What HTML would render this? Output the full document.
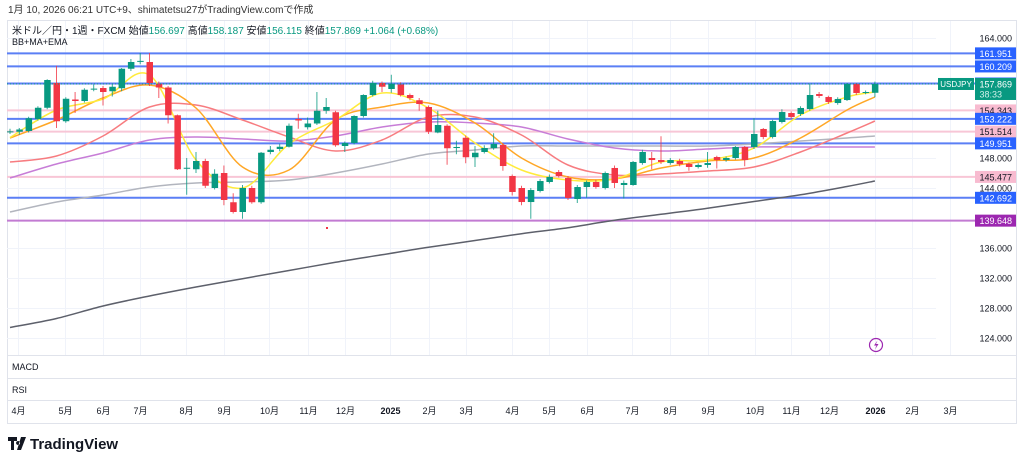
<!DOCTYPE html>
<html><head><meta charset="utf-8"><style>
body{margin:0;background:#fff;width:1024px;height:465px;overflow:hidden;font-family:"Liberation Sans","Noto Sans CJK JP",sans-serif}
svg{position:absolute;left:0;top:0}
</style></head><body>
<svg id="c" width="1024" height="465" font-family="Liberation Sans, Noto Sans CJK JP, sans-serif">
<text x="8" y="13" font-size="10" fill="#333">1月 10, 2026 06:21 UTC+9、shimatetsu27がTradingView.comで作成</text>
<rect x="7.5" y="20.5" width="1009" height="403" fill="none" stroke="#e0e3eb"/>
<g id="grid"></g><g id="hlines"></g><g id="mas"></g><g id="candles"></g><g id="axis"></g>
<text x="12" y="34" font-size="10" fill="#131722">米ドル／円・1週・FXCM 始値<tspan fill="#089981">156.697</tspan> 高値<tspan fill="#089981">158.187</tspan> 安値<tspan fill="#089981">156.115</tspan> 終値<tspan fill="#089981">157.869</tspan> <tspan fill="#089981">+1.064 (+0.68%)</tspan></text>
<text x="12" y="45" font-size="9" fill="#131722">BB+MA+EMA</text>
<line x1="7" y1="355.5" x2="1017" y2="355.5" stroke="#e0e3eb"/>
<line x1="7" y1="378.5" x2="1017" y2="378.5" stroke="#e0e3eb"/>
<line x1="7" y1="400.5" x2="1017" y2="400.5" stroke="#e0e3eb"/>
<text x="12" y="370" font-size="9" fill="#131722">MACD</text>
<text x="12" y="393" font-size="9" fill="#131722">RSI</text>
<g><circle cx="876" cy="345" r="6.5" fill="none" stroke="#9c27b0" stroke-width="1.2"/><path d="M877.5 340.5 L874 345.5 L876.5 345.5 L875 349.5 L878.5 344 L876 344 Z" fill="#9c27b0"/></g>
<g><path d="M8 437h9v4h-3v9h-3v-9h-3z M18 441a2 2 0 1 0 0.1 0z M21 437h5l-5 13h-4z" fill="#131722"/><text x="30" y="449" font-size="15" font-weight="bold" fill="#131722">TradingView</text></g>
</svg>
<script>
const NS="http://www.w3.org/2000/svg";
function mk(t,a,p){const e=document.createElementNS(NS,t);for(const k in a)e.setAttribute(k,a[k]);p.appendChild(e);return e;}
// ---- data ----
const opens=[151.45,151.5,151.6,153.2,154.7,158.0,152.9,155.8,155.6,157.2,157.33,156.9,157.3,159.9,160.85,160.8,157.9,157.4,153.7,146.6,146.5,147.6,144.0,146.0,142.1,140.8,144.0,142.1,148.8,149.2,149.5,153.2,152.1,152.6,154.3,154.1,149.6,150.0,153.6,156.4,158.0,157.2,157.8,156.4,155.7,154.8,151.4,152.3,149.33,150.7,148.1,
148.8,149.33,149.73,145.6,144.0,142.13,143.6,144.8,146.13,145.33,142.53,144.13,144.8,144.0,146.67,144.4,144.4,147.33,148.0,147.73,147.33,147.6,147.2,146.8,147.07,148.13,147.73,148.0,149.47,149.47,151.87,150.8,152.8,154.0,153.87,154.53,156.53,156.13,155.33,155.73,157.87,156.67,156.697];
const highs=[151.9,152.0,153.5,154.9,158.5,160.3,156.1,156.8,157.3,157.8,157.6,157.9,160.0,161.2,162.0,162.0,158.2,157.6,153.8,148.0,148.8,147.9,146.5,147.0,143.3,144.4,144.3,148.8,149.6,149.9,152.6,153.9,153.4,156.8,156.0,154.3,150.2,153.7,156.5,158.3,158.2,159.1,158.1,156.6,156.0,155.0,154.3,152.5,150.3,151.0,149.6,
149.7,151.3,150.0,145.8,144.3,144.0,145.2,145.8,146.4,145.6,144.4,145.0,145.1,146.2,147.0,145.0,147.6,149.1,148.8,150.9,148.0,147.9,147.4,147.3,148.8,148.3,148.2,149.6,149.6,153.3,152.0,153.1,154.5,154.2,154.9,157.9,156.8,156.3,156.1,158.0,158.0,157.0,158.187];
const lows=[151.2,151.1,151.4,153.0,154.5,152.0,152.7,154.0,155.4,156.9,155.0,156.2,156.9,159.6,160.5,157.6,156.0,152.6,146.4,143.1,146.0,144.0,143.8,141.7,140.6,139.9,141.9,141.9,148.5,148.9,149.4,151.9,151.8,152.4,153.9,149.5,148.8,149.8,153.4,156.2,156.8,156.7,156.2,155.7,154.3,151.2,151.3,147.1,148.5,147.3,146.8,
148.6,149.1,146.3,143.0,141.7,139.9,143.4,144.6,145.4,142.4,142.0,142.7,143.9,143.8,144.0,142.6,144.3,147.1,146.5,147.2,147.1,146.9,146.3,146.6,146.7,146.6,147.5,147.8,146.9,149.2,150.5,150.6,152.6,153.2,153.6,154.3,156.0,155.2,155.1,155.6,156.4,156.5,156.115];
const closes=[151.55,151.8,153.3,154.7,158.4,152.9,155.9,155.6,157.1,157.25,156.8,157.5,159.9,160.8,160.95,158.0,157.4,153.7,146.5,146.7,147.6,144.3,145.9,142.4,140.8,144.0,142.1,148.7,149.1,149.5,152.3,153.0,152.6,154.3,154.8,149.7,150.0,153.6,156.4,158.0,157.5,157.9,156.4,156.0,155.2,151.5,152.4,149.3,149.47,148.1,148.7,
149.33,149.87,146.93,143.47,142.13,143.73,144.93,145.47,145.6,142.67,144.13,144.8,144.13,146.0,144.67,144.67,147.47,148.8,147.73,147.47,147.73,147.2,146.8,147.07,147.33,147.73,148.0,149.47,147.73,151.2,150.8,152.93,154.13,153.47,154.67,156.4,156.27,155.47,155.87,157.87,156.67,156.8,157.869];
// moving averages sampled every 5 weeks (index 0,5,...,90,93)
const maIdx=[0,5,10,15,20,25,30,35,40,45,50,55,60,65,70,75,80,85,90,93];
const emaFast=[150.73,154.4,155.87,159.07,147.73,144.0,149.87,153.07,156.67,154.67,150.0,146.4,145.07,145.2,147.47,147.73,149.33,153.73,156.13,156.8];
const emaSlow=[150.67,153.07,156.0,157.73,154.67,146.8,146.4,153.07,154.8,155.33,152.67,148.0,145.47,145.2,146.67,147.6,148.0,150.67,154.4,156.13];
const bbMid=[147.47,148.27,150.93,154.8,155.07,153.07,150.8,148.93,150.4,153.47,153.47,151.07,147.07,145.73,145.87,146.27,146.8,148.8,151.33,152.93];
const ma26=[145.33,147.2,148.67,150.4,150.8,150.53,150.27,150.93,152.13,152.8,152.67,152.13,150.53,149.33,148.93,149.2,149.47,149.47,149.47,149.47];
const ma52=[140.8,142.13,143.07,144.13,144.67,144.8,145.07,146.0,147.2,148.53,149.07,149.6,149.6,149.6,149.6,149.6,149.87,150.27,150.67,150.93];
const ma200=[125.4,126.6,128.27,129.6,130.8,131.9,133.0,134.1,135.1,136.1,137.0,137.9,138.7,139.7,140.5,141.3,142.2,143.1,144.2,144.93];
const levels=[161.951,160.209,157.932,154.343,153.222,151.514,149.951,145.477,142.692,139.648];
const levelKinds=["b","b","b","p","b","p","b","p","b","v"];
const priceTicks=[164,148,144,136,132,128,124];
const months=["4月","5月","6月","7月","8月","9月","10月","11月","12月","2025","2月","3月","4月","5月","6月","7月","8月","9月","10月","11月","12月","2026","2月","3月"];
const monthWeek=[0.9,5.9,10.0,14.0,18.9,23.0,27.8,32.0,36.0,40.9,45.0,49.0,54.0,58.0,62.0,66.9,71.0,75.0,80.1,84.0,88.1,93.0,97.0,101.1];
// ---- axes ----
const y=p=>338-(p-124)*7.5;
const x=i=>10+i*9.3;
const G=document.getElementById('grid'),H=document.getElementById('hlines'),M=document.getElementById('mas'),C=document.getElementById('candles'),A=document.getElementById('axis');
months.forEach((m,k)=>{
 const xx=Math.round(x(monthWeek[k]))+0.5;
 const l=mk('line',{x1:xx,y1:21,x2:xx,y2:355,stroke:'#f0f3fa'},G);
 
 
 const t=mk('text',{x:xx,y:414,'font-size':9,'text-anchor':'middle',fill:'#131722','font-weight':(m.length==4?'bold':'normal')},A);
 t.textContent=m;
 
 
});
priceTicks.forEach(p=>{
 const l=mk('line',{x1:7,y1:Math.round(y(p))+0.5,x2:936,y2:Math.round(y(p))+0.5,stroke:'#f0f3fa'},G);
 
 
 const t=mk('text',{x:1012,y:y(p)+3.5,'font-size':9,'text-anchor':'end',fill:'#131722'},A);
 t.textContent=p.toFixed(3);
 
 
});
const kc={b:['#5b7ff5','#2962ff','#fff'],p:['#f8c6d6','#f8bbd0','#131722'],v:['#c27bd2','#9c27b0','#fff']};
levels.forEach((p,k)=>{
 const c=kc[levelKinds[k]],yy=y(p);
 const l=mk('line',{x1:7,y1:yy,x2:975,y2:yy,stroke:c[0],'stroke-width':2},H);
 
 
 const r=mk('rect',{x:975,y:yy-6,width:41,height:12,fill:c[1]},A);
 
 
 const t=mk('text',{x:1012,y:yy+3.5,'font-size':9,'text-anchor':'end',fill:c[2]},A);
 t.textContent=p.toFixed(3);
 
 
});
function line(arr,col,w,name){
 const P=maIdx.map((i,k)=>[x(i),y(arr[k])]);
 let d='M'+P[0][0].toFixed(1)+' '+P[0][1].toFixed(1);
 for(let k=0;k<P.length-1;k++){
  const p0=P[Math.max(0,k-1)],p1=P[k],p2=P[k+1],p3=P[Math.min(P.length-1,k+2)];
  const c1=[p1[0]+(p2[0]-p0[0])/6,p1[1]+(p2[1]-p0[1])/6],c2=[p2[0]-(p3[0]-p1[0])/6,p2[1]-(p3[1]-p1[1])/6];
  d+=' C'+c1.map(v=>v.toFixed(1)).join(' ')+' '+c2.map(v=>v.toFixed(1)).join(' ')+' '+p2[0].toFixed(1)+' '+p2[1].toFixed(1);
 }
 const e=mk('path',{d:d,fill:'none',stroke:col,'stroke-width':w,'stroke-linejoin':'round'},M);
 
 
}
line(ma200,'#5d606b',1.5,'ma200-line');
line(ma52,'#b2b5be',1.5,'ma52-line');
line(ma26,'#c77dd7',1.5,'ma26-line');
line(bbMid,'#f77c80',1.5,'bb-middle-line');
line(emaSlow,'#ffa726',1.5,'ema-slow-line');
line(emaFast,'#ffeb3b',1.5,'ema-fast-line');
opens.forEach((o,i)=>{
 const c=closes[i],up=c>=o,col=up?'#089981':'#f23645',xx=x(i);
 const w=mk('line',{x1:xx,y1:y(highs[i]),x2:xx,y2:y(lows[i]),stroke:col,'stroke-width':1,opacity:0.8},C);
 
 
 const top=y(Math.max(o,c)),h=Math.max(1,Math.abs(y(o)-y(c)));
 const b=mk('rect',{x:xx-3,y:top,width:6.5,height:h,fill:col},C);
 
 
});
// current price
const cp=closes[closes.length-1],cy=y(cp);
const dl=mk('line',{x1:7,y1:cy,x2:940,y2:cy,stroke:'#089981','stroke-dasharray':'1 2'},A);


const sb=mk('rect',{x:938,y:cy-6,width:36,height:12,fill:'#089981'},A);


const st=mk('text',{x:956,y:cy+3,'font-size':8,'text-anchor':'middle',fill:'#fff'},A);
st.textContent='USDJPY';


const pb=mk('rect',{x:975,y:cy-6,width:41,height:22,fill:'#089981'},A);


const pt=mk('text',{x:1012,y:cy+3.5,'font-size':9,'text-anchor':'end',fill:'#fff'},A);
pt.textContent=cp.toFixed(3);


const ct=mk('text',{x:1002,y:cy+13.5,'font-size':9,'text-anchor':'end',fill:'#d1f0ea'},A);
ct.textContent='38:33';


const dot=mk('rect',{x:326,y:227,width:2,height:2,fill:'#f23645'},A);


</script>
</body></html>
